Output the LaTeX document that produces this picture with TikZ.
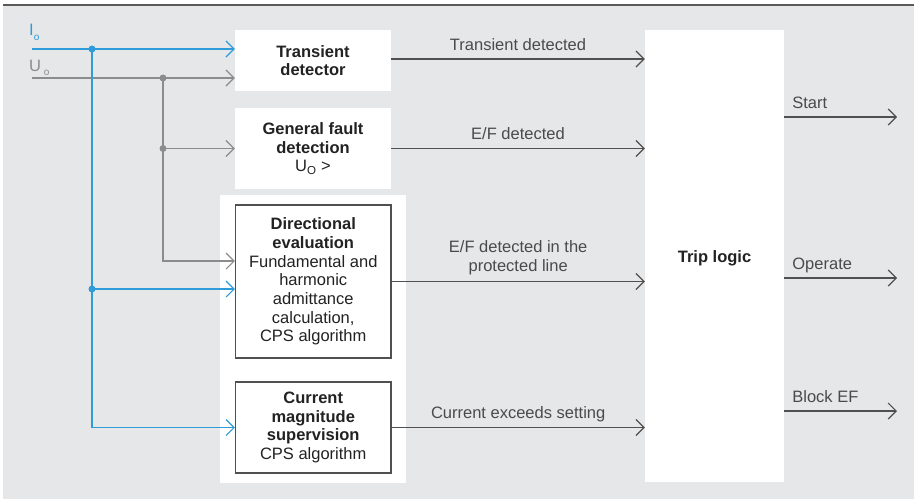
\documentclass[tikz,border=0pt]{standalone}
\usepackage{fontspec}
\setmainfont{Liberation Sans}
\usetikzlibrary{arrows.meta,calc}
\definecolor{bg}{HTML}{E6E7E9}
\definecolor{topline}{HTML}{5A5A5A}
\definecolor{iblue}{HTML}{2F9BD8}
\definecolor{ugray}{HTML}{8C8C8C}
\definecolor{outline}{HTML}{505050}
\definecolor{txt}{HTML}{222222}
\definecolor{lbl}{HTML}{4A4A4A}
\begin{document}
\begin{tikzpicture}[x=1pt,y=-1pt,
  font=\fontsize{16.5}{18.7}\selectfont,
  wbox/.style={fill=white, align=center, inner sep=0pt, text=txt},
  fbox/.style={wbox, draw=outline, line width=1.1pt},
  arr/.style={-{Straight Barb[length=8pt,width=16pt]}, line width=1.2pt},
  outarr/.style={arr, draw=outline},
  blu/.style={arr, draw=iblue},
  gry/.style={arr, draw=ugray},
  lab/.style={text=lbl, align=center, inner sep=0pt, anchor=base},
  dot/.style={circle, inner sep=0pt, minimum size=7pt}
]
\useasboundingbox (0,0) rectangle (914,499);
\fill[white] (0,0) rectangle (914,499);
\fill[bg] (3,6) rectangle (914,499);
\draw[topline, line width=2pt] (3,5) -- (914,5);

% panel behind lower boxes
\node[fill=white, inner sep=0pt, minimum width=186pt, minimum height=288pt] (panel) at (313,339) {};

% boxes
\node[wbox, minimum width=156pt, minimum height=61pt] (td) at (313,60.5)
  {\textbf{Transient}\\\textbf{detector}};
\node[wbox, minimum width=156pt, minimum height=81pt] (gf) at (313,148.5)
  {\textbf{General fault}\\\textbf{detection}\\U\textsubscript{O} >};
\node[fbox, minimum width=155.5pt, minimum height=153pt] (de) at (313.25,281.5)
  {\textbf{Directional}\\\textbf{evaluation}\\Fundamental and\\harmonic\\admittance\\calculation,\\CPS algorithm};
\node[fbox, minimum width=155.5pt, minimum height=91pt] (cm) at (313.25,427.5)
  {\textbf{Current}\\\textbf{magnitude}\\\textbf{supervision}\\CPS algorithm};
\node[wbox, minimum width=139pt, minimum height=452pt] (tl) at (714.5,256)
  {\raisebox{-6.5pt}[0pt][0pt]{\textbf{Trip logic}}};

% input labels
\node[text=iblue, anchor=base west, inner sep=0pt] (iol) at (29,35)
  {I\raisebox{-5pt}{\fontsize{10}{10}\selectfont o}};
\node[text=ugray, anchor=base west, inner sep=0pt] (uol) at (29,71.5)
  {U\,\raisebox{-3.5pt}{\fontsize{10}{10}\selectfont o}};

\coordinate (io) at (32,49);
\coordinate (uo) at (32,78);
\coordinate (b1) at (92,49);
\coordinate (b2) at (92,289);
\coordinate (g1) at (163,78);
\coordinate (g2) at (163,148.5);
\coordinate (g3) at (163,261);
\coordinate (ty) at (0,59);

% inputs
\draw[gry] (uo) -- (uo -| td.west);
\draw[gry] (g1) -- (g2) -- (gf.west);
\draw[gry] (g2) -- (g3) -- (g3 -| de.west);
\draw[blu] (io) -- (io -| td.west);
\draw[blu] (b1) -- (b1 |- cm.west) -- (cm.west);
\draw[blu] (b2) -- (b2 -| de.west);
\node[dot, fill=iblue] at (b1) {};
\node[dot, fill=iblue] at (b2) {};
\node[dot, fill=ugray] at (g1) {};
\node[dot, fill=ugray] at (g2) {};

% to trip logic
\draw[outarr] (td.east |- ty) -- node[lab, yshift=8.5pt] {Transient detected} (tl.west |- ty);
\draw[outarr] (gf.east) -- node[lab, yshift=9pt] {E/F detected} (gf.east -| tl.west);
\draw[outarr] (de.east) -- node[lab, yshift=10.3pt] {E/F detected in the\\protected line} (de.east -| tl.west);
\draw[outarr] (cm.east) -- node[lab, yshift=9.5pt] {Current exceeds setting} (cm.east -| tl.west);

% outputs
\coordinate (o1) at (897,117);
\coordinate (o2) at (897,278);
\coordinate (o3) at (897,411);
\draw[outarr] (tl.east |- o1) -- (o1);
\draw[outarr] (tl.east |- o2) -- (o2);
\draw[outarr] (tl.east |- o3) -- (o3);
\node[lab, anchor=base west] at ($(tl.east |- o1)+(8,-8.5)$) {Start};
\node[lab, anchor=base west] at ($(tl.east |- o2)+(8,-8.5)$) {Operate};
\node[lab, anchor=base west] at ($(tl.east |- o3)+(8,-8.5)$) {Block EF};
\end{tikzpicture}
\end{document}
